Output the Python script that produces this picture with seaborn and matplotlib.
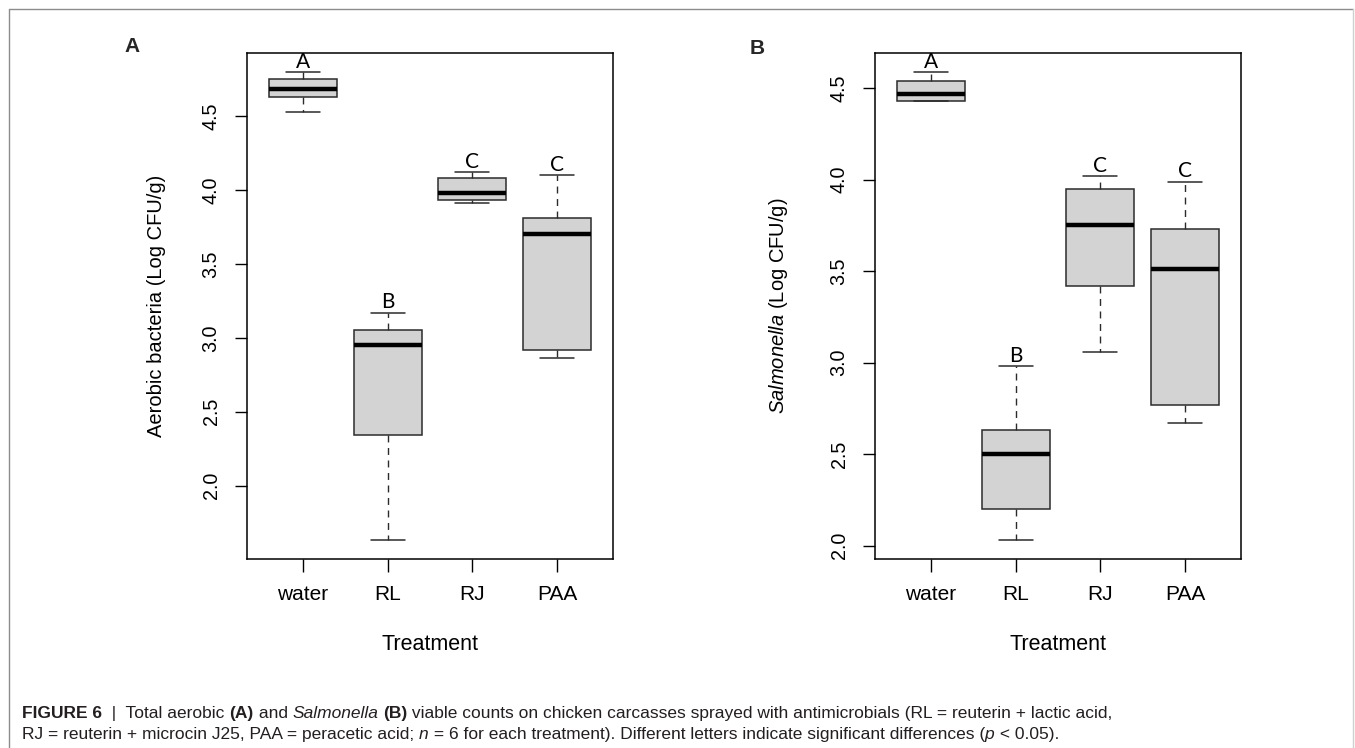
import numpy as np
import pandas as pd
import seaborn as sns
import matplotlib.pyplot as plt
from matplotlib.lines import Line2D
from matplotlib.ticker import MultipleLocator, FormatStrFormatter

W, H = 1355, 748

treatments = ["water", "RL", "RJ", "PAA"]

# five-number summaries: min, lower hinge, median, upper hinge, max
aerobic_water = [4.53, 4.63, 4.68, 4.75, 4.80]
aerobic_rl = [1.63, 2.34, 2.95, 3.05, 3.17]
aerobic_rj = [3.91, 3.93, 3.98, 4.08, 4.12]
aerobic_paa = [2.86, 2.92, 3.70, 3.81, 4.10]

salmonella_water = [4.43, 4.43, 4.47, 4.54, 4.59]
salmonella_rl = [2.03, 2.20, 2.50, 2.63, 2.98]
salmonella_rj = [3.06, 3.42, 3.75, 3.95, 4.02]
salmonella_paa = [2.67, 2.77, 3.51, 3.73, 3.99]

letters_aerobic = ["A", "B", "C", "C"]
letters_salmonella = ["A", "B", "C", "C"]

sns.set_style("white")
plt.rcParams["font.family"] = ["Liberation Sans", "DejaVu Sans"]
plt.rcParams["mathtext.fontset"] = "custom"
plt.rcParams["mathtext.it"] = "Liberation Sans:italic"
plt.rcParams["mathtext.rm"] = "Liberation Sans"


def to_long(groups):
    rows = []
    for name, vals in zip(treatments, groups):
        for v in vals:
            rows.append({"Treatment": name, "value": v})
    return pd.DataFrame(rows)


def draw_panel(ax, groups, letters, ylabel, ylabel_x):
    df = to_long(groups)
    sns.boxplot(
        data=df,
        x="Treatment",
        y="value",
        order=treatments,
        ax=ax,
        color="#d3d3d3",
        saturation=1,
        width=0.8,
        whis=(0, 100),
        linewidth=1.1,
        linecolor="#2b2b2b",
        medianprops=dict(color="black", linewidth=3.2),
        whiskerprops=dict(linestyle=(0, (5, 4)), linewidth=1.0),
        capprops=dict(linewidth=1.1),
    )

    # R-style limits: data range padded by 4%
    allv = np.concatenate([np.asarray(g) for g in groups])
    lo, hi = allv.min(), allv.max()
    pad = 0.04 * (hi - lo)
    ax.set_ylim(lo - pad, hi + pad)
    ax.set_xlim(-0.66, 3.66)

    ax.yaxis.set_major_locator(MultipleLocator(0.5))
    ax.yaxis.set_major_formatter(FormatStrFormatter("%.1f"))
    ax.tick_params(bottom=True, left=True, direction="out", length=9,
                   width=1.0, color="black", pad=10, labelcolor="black")
    ax.tick_params(axis="x", labelsize=15)
    ax.tick_params(axis="y", labelsize=14.2)
    for lab in ax.get_yticklabels():
        lab.set_rotation(90)
        lab.set_va("center")

    for s in ax.spines.values():
        s.set_color("black")
        s.set_linewidth(1.1)

    for i, (vals, letter) in enumerate(zip(groups, letters)):
        ax.annotate(letter, xy=(i, max(vals)), xytext=(0, 3),
                    textcoords="offset points", ha="center", va="baseline",
                    fontfamily="Lato", fontsize=15, color="black")

    ax.set_xlabel("Treatment", fontsize=15.5, color="black")
    ax.xaxis.set_label_coords(0.5, (559 - 645) / 506)
    ax.xaxis.label.set_va("center")
    ax.set_ylabel(ylabel, fontsize=14.5, color="black")
    ax.yaxis.set_label_coords(ylabel_x, 0.5)
    ax.yaxis.label.set_va("center")


fig = plt.figure(figsize=(W / 100, H / 100), dpi=100)
ax_a = fig.add_axes([247 / W, (H - 559) / H, 366 / W, 506 / H])
ax_b = fig.add_axes([875 / W, (H - 559) / H, 366 / W, 506 / H])

draw_panel(ax_a, [aerobic_water, aerobic_rl, aerobic_rj, aerobic_paa],
           letters_aerobic, "Aerobic bacteria (Log CFU/g)", (156 - 247) / 366)
draw_panel(ax_b, [salmonella_water, salmonella_rl, salmonella_rj, salmonella_paa],
           letters_salmonella, r"$\mathit{Salmonella}$ (Log CFU/g)", (778 - 875) / 366)

fig.text(132 / W, 1 - 47 / H, "A", fontsize=15, fontweight="bold", ha="center", va="center")
fig.text(757 / W, 1 - 48 / H, "B", fontsize=15, fontweight="bold", ha="center", va="center")

# page frame
fig.add_artist(Line2D([9 / W, 9 / W], [0, 1 - 9 / H], transform=fig.transFigure,
                      color="#8c8c8c", lw=1))
fig.add_artist(Line2D([9 / W, 1353 / W], [1 - 9 / H, 1 - 9 / H], transform=fig.transFigure,
                      color="#8c8c8c", lw=1))
fig.add_artist(Line2D([1353 / W, 1353 / W], [0, 1 - 9 / H], transform=fig.transFigure,
                      color="#d0d0d0", lw=1))

# caption, drawn piece by piece so bold / italic runs line up
renderer = fig.canvas.get_renderer()
cap_size = 12.5
cap_color = "#231f20"


def seg_width(text, style):
    kw = dict(fontsize=cap_size, **style)
    t1 = fig.text(0, 0, "x" + text + "x", **kw)
    t2 = fig.text(0, 0, "xx", **kw)
    w = t1.get_window_extent(renderer).width - t2.get_window_extent(renderer).width
    t1.remove()
    t2.remove()
    return w


def draw_line(segments, x0, y_base):
    x = x0
    for text, style in segments:
        fig.text(x / W, 1 - y_base / H, text, fontsize=cap_size, color=cap_color,
                 ha="left", va="baseline", **style)
        x += seg_width(text, style)


N = {}
B = {"fontweight": "bold"}
I = {"fontstyle": "italic"}

line1 = [
    ("FIGURE 6", B),
    ("  |  Total aerobic ", N),
    ("(A)", B),
    (" and ", N),
    ("Salmonella", I),
    (" ", N),
    ("(B)", B),
    (" viable counts on chicken carcasses sprayed with antimicrobials (RL = reuterin + lactic acid,", N),
]
line2 = [
    ("RJ = reuterin + microcin J25, PAA = peracetic acid; ", N),
    ("n", I),
    (" = 6 for each treatment). Different letters indicate significant differences (", N),
    ("p", I),
    (" < 0.05).", N),
]
draw_line(line1, 22, 718)
draw_line(line2, 22, 739)

fig.savefig("out.png", dpi=100)
plt.close(fig)
